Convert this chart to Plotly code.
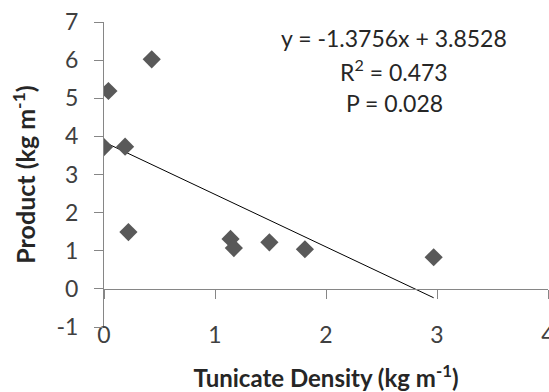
import plotly.graph_objects as go

density = [0.0, 0.04, 0.43, 0.19, 0.22, 1.14, 1.17, 1.49, 1.81, 2.97]
product = [3.72, 5.19, 6.02, 3.73, 1.49, 1.31, 1.07, 1.22, 1.04, 0.83]
slope = -1.3756
intercept = 3.8528
r_squared = 0.473
p_value = 0.028
x_ticks = [0, 1, 2, 3, 4]
y_ticks = [-1, 0, 1, 2, 3, 4, 5, 6, 7]
y_tick_text = ["-1", "0", "1", "2", "3", "4", "5", "6", "7"]

FONT = "Lato"
AX = "#868686"

fit_x = [0, max(density)]
fit_y = [slope * v + intercept for v in fit_x]

fig = go.Figure()
fig.add_trace(go.Scatter(x=fit_x, y=fit_y, mode="lines",
                         line=dict(color="black", width=1), showlegend=False,
                         hoverinfo="skip"))
fig.add_trace(go.Scatter(x=density, y=product, mode="markers",
                         marker=dict(symbol="diamond", size=14, color="#595959",
                                     line=dict(width=0)),
                         showlegend=False))
fig.add_trace(go.Scatter(x=[None], y=[None], xaxis="x2", showlegend=False))

fig.update_layout(
    width=549, height=392,
    margin=dict(l=104, r=1, t=22, b=65),
    paper_bgcolor="white", plot_bgcolor="white",
    font=dict(family=FONT, color="#404040"),
    xaxis=dict(range=[0, 4], tickvals=x_ticks, showgrid=False, zeroline=False,
               showline=False, ticks="", automargin=False,
               ticklabeloverflow="allow", ticklabelstandoff=-8,
               tickfont=dict(size=23, color="#404040"),
               title=dict(text="<b>Tunicate Density (kg m<sup>-1</sup>)</b>",
                          font=dict(size=24, color="#262626"), standoff=23)),
    xaxis2=dict(range=[0, 4], tickvals=x_ticks, overlaying="x", anchor="free",
                position=0.125, side="bottom", showgrid=False, zeroline=False,
                showline=True, linecolor=AX, linewidth=1, ticks="outside",
                ticklen=9, tickcolor=AX, showticklabels=False, automargin=False),
    yaxis=dict(range=[-1, 7], tickvals=y_ticks, ticktext=y_tick_text,
               showgrid=False, zeroline=False, automargin=False,
               showline=True, linecolor=AX, linewidth=1, ticks="outside",
               ticklen=9, tickcolor=AX, ticklabelstandoff=11,
               tickfont=dict(size=23, color="#404040"),
               title=dict(text="<b>Product (kg m<sup>-1</sup>)</b>",
                          font=dict(size=25, color="#262626"), standoff=13)),
)

lines = [f"y = {slope}x + {intercept}",
         f"R<sup>2</sup> = {r_squared}",
         f"P = {p_value}"]
line_px = [38, 70, 103]
for txt, py in zip(lines, line_px):
    fig.add_annotation(
        xref="paper", yref="paper", x=(394 - 104) / 444, y=(327 - py) / 305,
        xanchor="center", yanchor="middle", showarrow=False,
        text=txt, font=dict(size=23, color="#262626", family=FONT))

fig.write_html("out.html", config={"displayModeBar": False},
               post_script="document.body.style.margin='0';")
